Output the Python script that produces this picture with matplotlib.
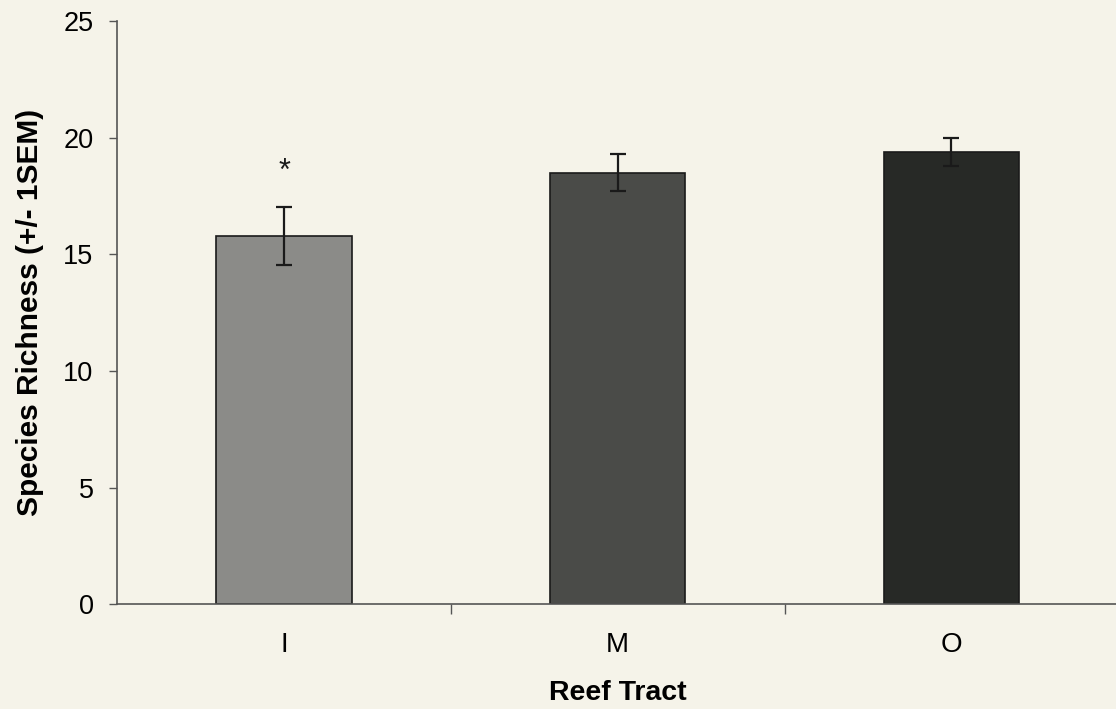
import matplotlib
matplotlib.use("Agg")
import matplotlib.pyplot as plt

plt.rcParams['font.family'] = ['Liberation Sans', 'DejaVu Sans']

# Mean species richness per reef tract with +/- 1 SEM
tracts = ["I", "M", "O"]
richness = [15.8, 18.5, 19.4]
sem = [1.25, 0.8, 0.6]
significant = [True, False, False]

bar_colors = ["#8b8b88", "#4a4b48", "#272926"]
bg = "#f5f3e9"

fig = plt.figure(figsize=(11.16, 7.09), dpi=100, facecolor=bg)
ax = fig.add_axes([0.105, 0.148, 0.897, 0.822], facecolor=bg)

x = list(range(len(tracts)))
ax.bar(x, richness, width=0.405, color=bar_colors, edgecolor="#1a1a1a",
       linewidth=1.2, zorder=2)
ax.errorbar(x, richness, yerr=sem, fmt="none", ecolor="#1a1a1a",
            elinewidth=1.6, capsize=6, capthick=1.6, zorder=3)

for xi, val, err, sig in zip(x, richness, sem, significant):
    if sig:
        ax.text(xi, val + err + 1.5, "*", ha="center", va="center",
                fontsize=22, color="#1a1a1a")

ax.set_xlim(-0.5, 2.5)
ax.set_ylim(0, 25)
ax.set_yticks([0, 5, 10, 15, 20, 25])
ax.set_xticks(x)
ax.set_xticklabels(tracts)
ax.set_xticks([0.5, 1.5], minor=True)
ax.tick_params(axis="x", which="major", length=0, pad=20, labelsize=20)
ax.tick_params(axis="x", which="minor", length=7, width=1.0, color="#555555")
ax.tick_params(axis="y", length=6, width=1.0, color="#555555", labelsize=19.5,
               pad=11)

for side in ("top", "right"):
    ax.spines[side].set_visible(False)
for side in ("left", "bottom"):
    ax.spines[side].set_color("#555555")
    ax.spines[side].set_linewidth(1.2)

ax.set_ylabel("Species Richness (+/- 1SEM)", fontsize=21.5, fontweight="bold",
              labelpad=14)
ax.set_xlabel("Reef Tract", fontsize=20.5, fontweight="bold", labelpad=16)

fig.savefig("out.png", dpi=100, facecolor=bg)
